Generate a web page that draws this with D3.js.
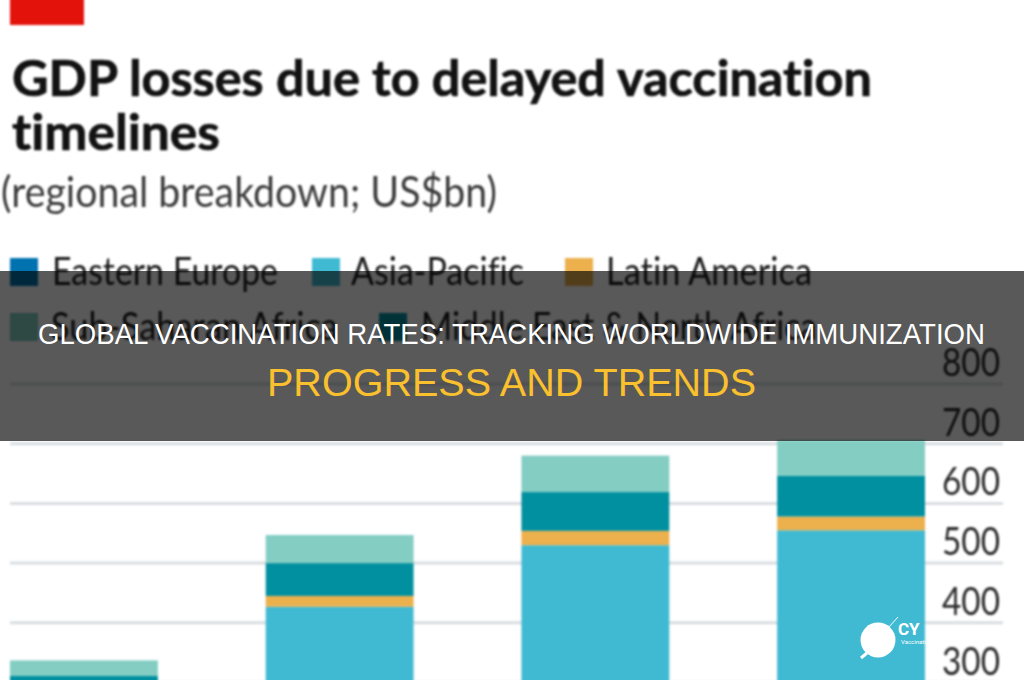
<!DOCTYPE html>
<html><head><meta charset="utf-8">
<script src="https://cdn.jsdelivr.net/npm/d3@7/dist/d3.min.js"></script>
<style>html,body{margin:0;padding:0;background:#fff;overflow:hidden}svg{display:block}text{font-variant-ligatures:none}</style>
</head><body><svg id="c" width="1024" height="680"></svg>
<script>
const categories = ["A","B","C","D"];
const easternEurope = [15, 30, 40, 45];
const asiaPacific = [225, 397, 490, 510];
const latinAmerica = [15, 18, 24, 23];
const middleEastNorthAfrica = [56, 55, 65, 68];
const subSaharanAfrica = [26, 47, 61, 60];
const yTicks = [300,400,500,600,700,800];
const seriesNames = ["Eastern Europe","Asia-Pacific","Latin America","Middle East & North Africa","Sub-Saharan Africa"];
const seriesColors = ["#0072b0","#3fbad2","#ecb04c","#00909f","#83cdc3"];
const legendNames = ["Eastern Europe","Asia-Pacific","Latin America","Sub-Saharan Africa","Middle East & North Africa"];
const titleLines = ["GDP losses due to delayed vaccination","timelines"];
const subtitle = "(regional breakdown; US$bn)";
const bannerLine1 = "GLOBAL VACCINATION RATES: TRACKING WORLDWIDE IMMUNIZATION";
const bannerLine2 = "PROGRESS AND TRENDS";

const svg = d3.select("#c");
const chart = svg.append("g").style("filter","blur(0.9px)");

const y = d3.scaleLinear().domain([0,800]).range([861.6,384]);
const x = d3.scaleBand().domain(categories).range([10,925]).paddingInner(108/256).paddingOuter(0);
const rows = categories.map((c,i)=>({cat:c,"Eastern Europe":easternEurope[i],"Asia-Pacific":asiaPacific[i],"Latin America":latinAmerica[i],"Middle East & North Africa":middleEastNorthAfrica[i],"Sub-Saharan Africa":subSaharanAfrica[i]}));
const stack = d3.stack().keys(seriesNames)(rows);
const color = d3.scaleOrdinal(seriesNames,seriesColors);
const narrow = "'Lato','Liberation Sans'";

// title block
chart.append("rect").attr("x",10).attr("y",-2).attr("width",74).attr("height",27).attr("fill","#e3120b");
const titleWidths=[860,208];
chart.selectAll("text.t").data(titleLines).join("text").attr("class","t")
  .attr("x",12).attr("y",(d,i)=>96+i*54).attr("font-family","Lato").attr("font-weight",700)
  .attr("font-size",50).attr("fill","#121212").attr("stroke","#121212").attr("stroke-width",0.7)
  .attr("textLength",(d,i)=>titleWidths[i]).attr("lengthAdjust","spacingAndGlyphs").text(d=>d);
chart.append("text").attr("x",1).attr("y",207).attr("font-family",narrow)
  .attr("font-size",42).attr("fill","#3a3a3a")
  .attr("textLength",496).attr("lengthAdjust","spacingAndGlyphs").text(subtitle);

// legend
const swatchX=[10,312,565,10,379], textX=[52,351,606,51,421], textW=[226,173,206,287,396];
const rowY=[258,313];
const lg=chart.selectAll("g.l").data(legendNames).join("g").attr("class","l");
lg.append("rect").attr("x",(d,i)=>swatchX[i]).attr("y",(d,i)=>rowY[i<3?0:1]).attr("width",28).attr("height",28).attr("fill",d=>color(d));
lg.append("text").attr("x",(d,i)=>textX[i]).attr("y",(d,i)=>rowY[i<3?0:1]+27).attr("font-family",narrow)
  .attr("font-size",38).attr("fill","#1a1a1a")
  .attr("textLength",(d,i)=>textW[i]).attr("lengthAdjust","spacingAndGlyphs").text(d=>d);

// grid + axis
chart.append("g").selectAll("line").data(yTicks).join("line").attr("x1",10).attr("x2",1003)
  .attr("y1",d=>y(d)).attr("y2",d=>y(d)).attr("stroke","#d9dde1").attr("stroke-width",3);
chart.selectAll("text.yt").data(yTicks).join("text").attr("class","yt").attr("x",942).attr("y",d=>y(d)-8)
  .attr("font-family",narrow).attr("font-size",38).attr("fill","#2a2a2a")
  .attr("textLength",58).attr("lengthAdjust","spacingAndGlyphs").text(d=>d);

// bars
chart.selectAll("g.s").data(stack).join("g").attr("class","s").attr("fill",d=>color(d.key))
 .selectAll("rect").data(d=>d.map(p=>({p,cat:p.data.cat}))).join("rect")
 .attr("x",d=>x(d.cat)).attr("width",x.bandwidth())
 .attr("y",d=>y(d.p[1])).attr("height",d=>y(d.p[0])-y(d.p[1]));

// banner
svg.append("rect").attr("x",0).attr("y",271).attr("width",1024).attr("height",170).attr("fill","#000").attr("fill-opacity",0.65);
svg.append("text").attr("x",38).attr("y",344).attr("font-family","'Liberation Sans'")
  .attr("font-size",30).attr("fill","#fff").attr("textLength",947).attr("lengthAdjust","spacingAndGlyphs").text(bannerLine1);
svg.append("text").attr("x",267).attr("y",396).attr("font-family","'Liberation Sans'")
  .attr("font-size",38).attr("fill","#fbc02d").attr("textLength",489).attr("lengthAdjust","spacingAndGlyphs").text(bannerLine2);

// watermark
const wm=svg.append("g");
wm.append("circle").attr("cx",878).attr("cy",640).attr("r",17.5).attr("fill","#fff");
wm.append("path").attr("d","M889 627L898 617").attr("stroke","#fff").attr("stroke-width",1).attr("fill","none");
wm.append("path").attr("d","M867 653L861 658").attr("stroke","#fff").attr("stroke-width",3).attr("fill","none");
wm.append("text").attr("x",898).attr("y",635).attr("font-family","Roboto").attr("font-weight",700).attr("font-size",17).attr("fill","#fff").text("CY");
wm.append("text").attr("x",901).attr("y",644).attr("font-family","Roboto").attr("font-size",6).attr("fill","#fff").text("Vaccinati");
</script></body></html>
